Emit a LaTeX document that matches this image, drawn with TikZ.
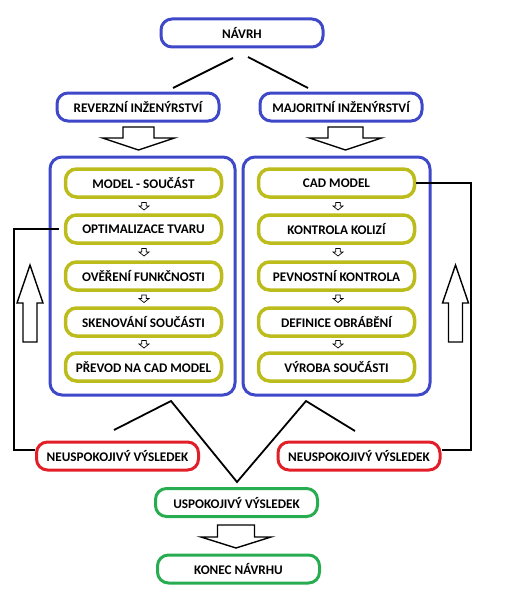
\documentclass[tikz,border=0pt]{standalone}
\usepackage{fontspec}
\setmainfont{Carlito}
\usetikzlibrary{calc}
\definecolor{cblue}{RGB}{62,72,200}
\definecolor{colive}{RGB}{188,188,28}
\definecolor{cred}{RGB}{226,30,40}
\definecolor{cgreen}{RGB}{40,172,80}
\tikzset{
  basebox/.style={draw, rounded corners=11pt, line width=3pt, minimum width=162pt, minimum height=28pt, font=\bfseries\fontsize{13.2}{15}\selectfont, inner sep=0pt, text=black},
  bluebox/.style={basebox, draw=cblue},
  redbox/.style={basebox, draw=cred},
  greenbox/.style={basebox, draw=cgreen},
  olivebox/.style={basebox, draw=colive, minimum width=156pt, line width=3.5pt},
  container/.style={draw=cblue, line width=3pt, rounded corners=12pt},
  conn/.style={draw=black, line width=1.8pt},
  arrowline/.style={draw=black, line width=1.4pt, fill=white, line join=miter},
  pics/barrow/.style n args={4}{code={
    \draw[arrowline] ({-#2/2},0) -- ({#2/2},0) -- ({#2/2},#3) -- ({#1/2},#3) -- (0,{#3+#4}) -- ({-#1/2},#3) -- ({-#2/2},#3) -- cycle;}},
  pics/sarrow/.style={code={
    \draw[black, line width=0.7pt, fill=white] (-2.3,0) -- (2.3,0) -- (2.3,3.5) -- (5,3.5) -- (0,7.5) -- (-5,3.5) -- (-2.3,3.5) -- cycle;}}
}
\begin{document}
\begin{tikzpicture}[x=1pt,y=-1pt]
\useasboundingbox (0,0) rectangle (508,602);
% top
\node[bluebox] (navrh) at (242,33) {NÁVRH};
\node[bluebox] (rev) at (138,107) {REVERZNÍ INŽENÝRSTVÍ};
\node[bluebox] (maj) at (341,107) {MAJORITNÍ INŽENÝRSTVÍ};
\coordinate (n1) at (233,58);
\coordinate (n2) at (248,57);
\coordinate (r1) at (173,88);
\coordinate (m1) at (308,88);
\draw[conn] (n1) -- (r1);
\draw[conn] (n2) -- (m1);
\pic at (138.5,127) {barrow={72}{31}{11}{12}};
\pic at (345.5,127) {barrow={72}{35}{11}{12}};
% containers
\draw[container] (50,157) rectangle (235,395);
\draw[container] (243,157) rectangle (430,395);
% left column
\node[olivebox] (l1) at (143.5,183) {MODEL - SOUČÁST};
\node[olivebox] (l2) at (143.5,229) {OPTIMALIZACE TVARU};
\node[olivebox] (l3) at (143.5,276) {OVĚŘENÍ FUNKČNOSTI};
\node[olivebox] (l4) at (143.5,322) {SKENOVÁNÍ SOUČÁSTI};
\node[olivebox] (l5) at (143.5,367) {PŘEVOD NA CAD MODEL};
% right column
\node[olivebox] (r1b) at (336.5,183) {CAD MODEL};
\node[olivebox] (r2b) at (336.5,229) {KONTROLA KOLIZÍ};
\node[olivebox] (r3b) at (336.5,276) {PEVNOSTNÍ KONTROLA};
\node[olivebox] (r4b) at (336.5,322) {DEFINICE OBRÁBĚNÍ};
\node[olivebox] (r5b) at (336.5,367) {VÝROBA SOUČÁSTI};
% small arrows
\foreach \yy in {202.5,248.5,295,340.5}{
  \pic at (144,\yy) {sarrow};
  \pic at (338,\yy) {sarrow};
}
% result boxes
\node[redbox] (neu1) at (117.5,456) {NEUSPOKOJIVÝ VÝSLEDEK};
\node[redbox] (neu2) at (359,456) {NEUSPOKOJIVÝ VÝSLEDEK};
\node[greenbox] (usp) at (236.5,502.5) {USPOKOJIVÝ VÝSLEDEK};
\node[greenbox] (konec) at (238.5,569) {KONEC NÁVRHU};
% feedback loops
\coordinate (lc) at (14,450);
\coordinate (rc) at (471,450);
\draw[conn] ([xshift=-5pt]l2.west) -| (lc) -- (lc -| neu1.west);
\draw[conn] (r1b.east) -| (rc) -- (rc -| neu2.east);
\pic at (30,342) [rotate=180] {barrow={26}{14}{39}{38}};
\pic at (455.5,342) [rotate=180] {barrow={26}{14}{39}{38}};
% V lines
\coordinate (pL) at (171,401);
\coordinate (pR) at (306,401);
\coordinate (eL) at (114,430);
\coordinate (eR) at (355,431);
\coordinate (vB) at (237,482);
\draw[conn] (eL) -- (pL) -- (vB) -- (pR) -- (eR);
\pic at (236,525) {barrow={70}{37}{12}{11}};
\end{tikzpicture}
\end{document}
